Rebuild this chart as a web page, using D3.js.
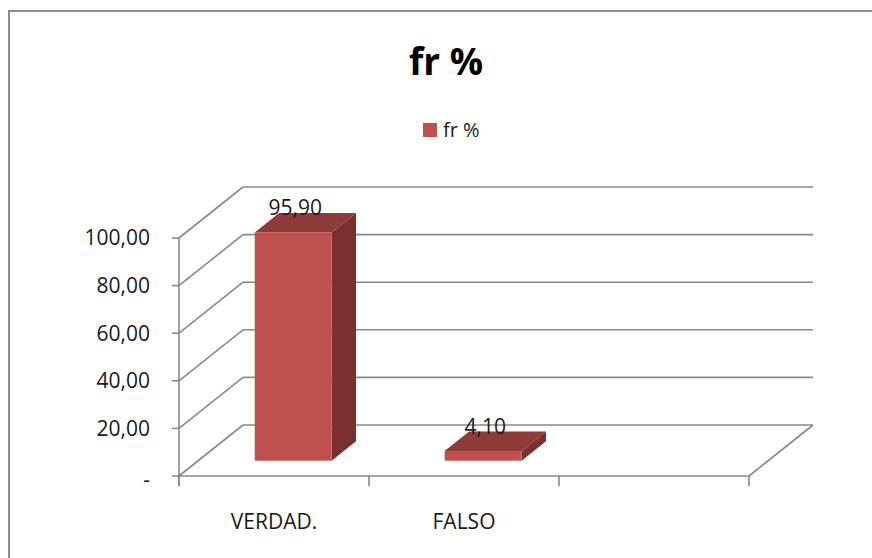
<!DOCTYPE html>
<html><head><meta charset="utf-8">
<script src="https://cdn.jsdelivr.net/npm/d3@7"></script>
<style>body{margin:0;background:#fff}svg{display:block}text{font-family:"Open Sans",sans-serif}</style>
</head><body><svg id="c" width="872" height="558"></svg>
<script>
const categories = ["VERDAD.", "FALSO", ""];
const values = [95.90, 4.10, null];
const valueLabels = ["95,90", "4,10", ""];
const yTicks = [0, 20, 40, 60, 80, 100];
const yTickLabels = ["-", "20,00", "40,00", "60,00", "80,00", "100,00"];
const title = "fr %";
const seriesName = "fr %";

const svg = d3.select("#c");
const W = 872, H = 558;
svg.append("rect").attr("x", 9).attr("y", 11).attr("width", W + 10).attr("height", H + 10)
  .attr("fill", "#fff").attr("stroke", "#8c8c8c").attr("stroke-width", 2);

const x0 = 179, x1 = 749, yBase = 476, yTop = 238;
const D = [64, -51];
const x = d3.scaleBand().domain(categories).range([x0, x1]).paddingInner(0).paddingOuter(0);
const y = d3.scaleLinear().domain([0, 100]).range([yBase, yTop]);
const gridCol = "#8a8a8a";
const txtCol = "#1a1a1a";

const g = svg.append("g");
yTicks.forEach(t => {
  const yy = y(t);
  g.append("line").attr("x1", x0 + D[0]).attr("y1", yy + D[1]).attr("x2", x1 + D[0]).attr("y2", yy + D[1])
    .attr("stroke", gridCol).attr("stroke-width", 1.6);
  g.append("line").attr("x1", x0).attr("y1", yy).attr("x2", x0 + D[0]).attr("y2", yy + D[1])
    .attr("stroke", gridCol).attr("stroke-width", 1.6);
});
g.append("line").attr("x1", x0).attr("y1", yBase).attr("x2", x1).attr("y2", yBase).attr("stroke", gridCol).attr("stroke-width", 1.6);
g.append("line").attr("x1", x1).attr("y1", yBase).attr("x2", x1 + D[0]).attr("y2", yBase + D[1]).attr("stroke", gridCol).attr("stroke-width", 1.6);
g.append("line").attr("x1", x0).attr("y1", yTop).attr("x2", x0).attr("y2", yBase + 10).attr("stroke", gridCol).attr("stroke-width", 1.6);
yTicks.forEach((t, i) => {
  g.append("line").attr("x1", x0 - 7).attr("y1", y(t)).attr("x2", x0).attr("y2", y(t)).attr("stroke", gridCol).attr("stroke-width", 1.6);
  g.append("text").attr("x", 150).attr("y", y(t) + (t === 0 ? 4 : 0)).attr("dy", "0.35em")
    .attr("text-anchor", "end").attr("font-size", 21).attr("fill", txtCol).text(yTickLabels[i]);
});
const edges = categories.map(c => x(c)).concat([x1]);
edges.forEach(e => {
  g.append("line").attr("x1", e).attr("y1", yBase).attr("x2", e).attr("y2", yBase + 10).attr("stroke", gridCol).attr("stroke-width", 1.6);
});
categories.forEach(c => {
  g.append("text").attr("x", x(c) + x.bandwidth() / 2).attr("y", 529).attr("text-anchor", "middle")
    .attr("font-size", 21).attr("fill", txtCol).text(c);
});

const fF = 0.3, fB = 0.68, wRatio = 0.405;
const bw = x.bandwidth() * wRatio;
categories.forEach((c, i) => {
  const v = values[i];
  if (v == null) return;
  const xl = x(c) + (x.bandwidth() - bw) / 2 + D[0] * fF;
  const xr = xl + bw;
  const yb = y(0) + D[1] * fF;
  const yt = y(v) + D[1] * fF;
  const dx = D[0] * (fB - fF), dy = D[1] * (fB - fF);
  g.append("path").attr("d", `M${xr},${yt}L${xr + dx},${yt + dy}L${xr + dx},${yb + dy}L${xr},${yb}Z`).attr("fill", "#7a302e");
  g.append("path").attr("d", `M${xl},${yt}L${xl + dx},${yt + dy}L${xr + dx},${yt + dy}L${xr},${yt}Z`).attr("fill", "#8f3b39");
  g.append("rect").attr("x", xl).attr("y", yt).attr("width", bw).attr("height", yb - yt).attr("fill", "#c0504d");
  g.append("text").attr("x", xl + bw / 2 + 2).attr("y", yt + dy + 2).attr("text-anchor", "middle")
    .attr("font-size", 21).attr("fill", txtCol).text(valueLabels[i]);
});

svg.append("text").attr("x", 446).attr("y", 75).attr("text-anchor", "middle").attr("font-size", 37)
  .attr("font-weight", "bold").attr("fill", "#000").text(title);
svg.append("rect").attr("x", 423).attr("y", 123).attr("width", 14).attr("height", 14).attr("fill", "#c0504d");
svg.append("text").attr("x", 443).attr("y", 137).attr("font-size", 20).attr("fill", txtCol).text(seriesName);
</script></body></html>
